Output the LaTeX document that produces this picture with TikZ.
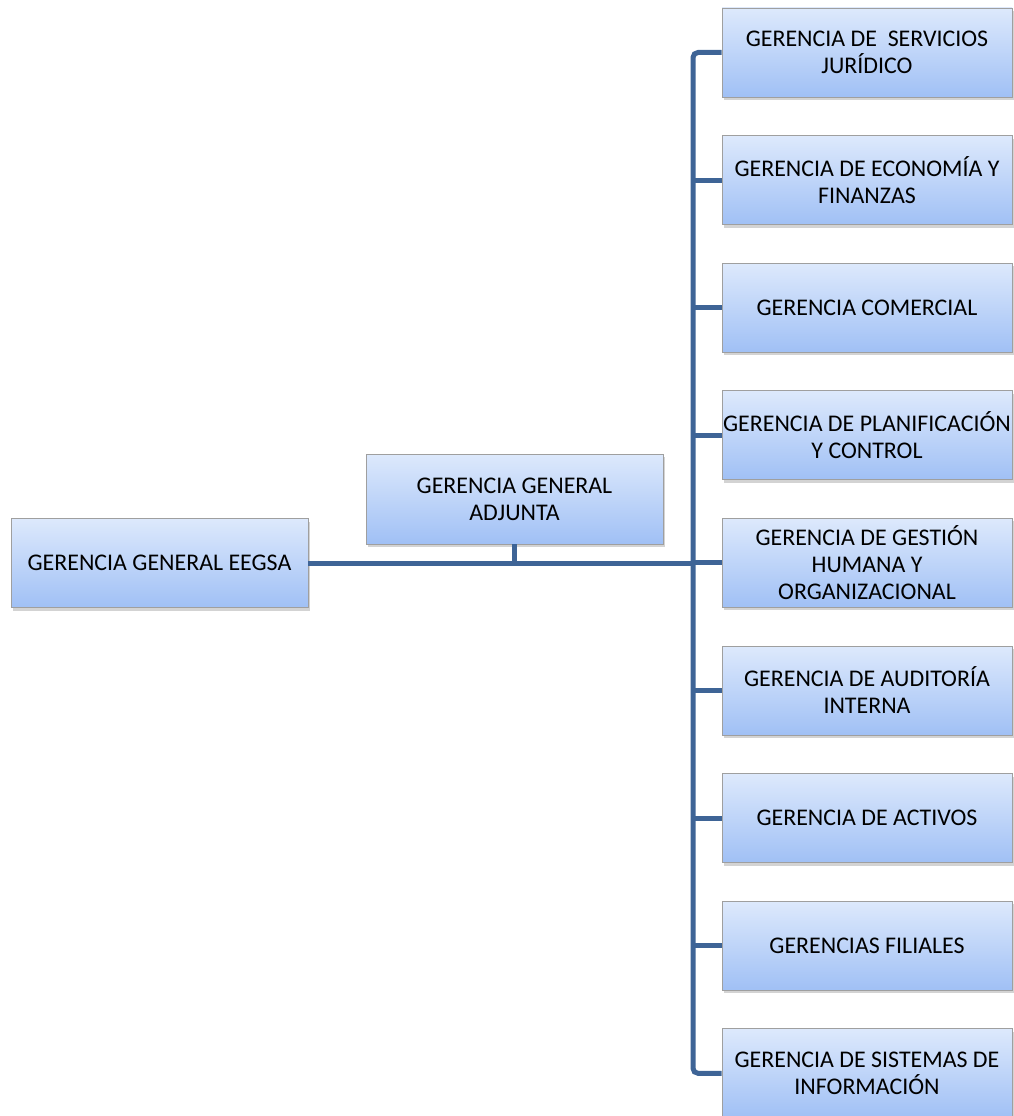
\documentclass[tikz,border=0pt]{standalone}
\usepackage{fontspec}
\setmainfont{Carlito}
\usepackage{xcolor}
\usepackage{tikz}
\usetikzlibrary{positioning, shadows}

\definecolor{linkblue}{RGB}{62,100,150}
\definecolor{boxtop}{RGB}{221,233,252}
\definecolor{boxbot}{RGB}{160,192,245}

\tikzset{
    unit/.style={rectangle, draw=gray!75, line width=0.8pt, top color=boxtop, bottom color=boxbot,
        minimum height=89pt, inner sep=0pt, align=center,
        font=\fontsize{23.9}{27}\selectfont,
        drop shadow={opacity=0.35, shadow xshift=2pt, shadow yshift=-3pt}},
    sub/.style={unit, minimum width=290pt},
    link/.style={draw=linkblue, line width=5pt}
}

\begin{document}
\begin{tikzpicture}[x=1pt, y=-1pt, node distance=127.6pt, on grid]
        \useasboundingbox (0,0) rectangle (1013,1116);

        \node[unit, minimum width=297pt] (gg) at (159.5,563) {GERENCIA GENERAL EEGSA};
        \node[unit, minimum width=297pt, minimum height=90pt] (ga) at (514.5,499) {GERENCIA GENERAL\\ADJUNTA};

        \node[sub] (g1) at (867,52.5) {GERENCIA DE~ SERVICIOS\\JURÍDICO};
        \node[sub] (g2) [below=of g1] {GERENCIA DE ECONOMÍA Y\\FINANZAS};
        \node[sub] (g3) [below=of g2] {GERENCIA COMERCIAL};
        \node[sub] (g4) [below=of g3] {GERENCIA DE PLANIFICACIÓN\\Y CONTROL};
        \node[sub] (g5) [below=of g4] {GERENCIA DE GESTIÓN\\HUMANA Y\\ORGANIZACIONAL};
        \node[sub] (g6) [below=of g5] {GERENCIA DE AUDITORÍA\\INTERNA};
        \node[sub] (g7) [below=of g6] {GERENCIA DE ACTIVOS};
        \node[sub] (g8) [below=of g7] {GERENCIAS FILIALES};
        \node[sub] (g9) [below=of g8] {GERENCIA DE SISTEMAS DE\\INFORMACIÓN};

        \coordinate (tr) at (693,563);

        % trunk and branches
        \draw[link, rounded corners=5pt] (g1.west) -| (tr) |- (g9.west);
        \draw[link] (gg.east) -- (tr);
        \draw[link] (ga.south) -- (ga.south |- tr);
        \draw[link] (tr |- g2.west) -- (g2.west);
        \draw[link] (tr |- g3.west) -- (g3.west);
        \draw[link] (tr |- g4.west) -- (g4.west);
        \draw[link] (tr |- g5.west) -- (g5.west);
        \draw[link] (tr |- g6.west) -- (g6.west);
        \draw[link] (tr |- g7.west) -- (g7.west);
        \draw[link] (tr |- g8.west) -- (g8.west);
    \end{tikzpicture}
\end{document}
